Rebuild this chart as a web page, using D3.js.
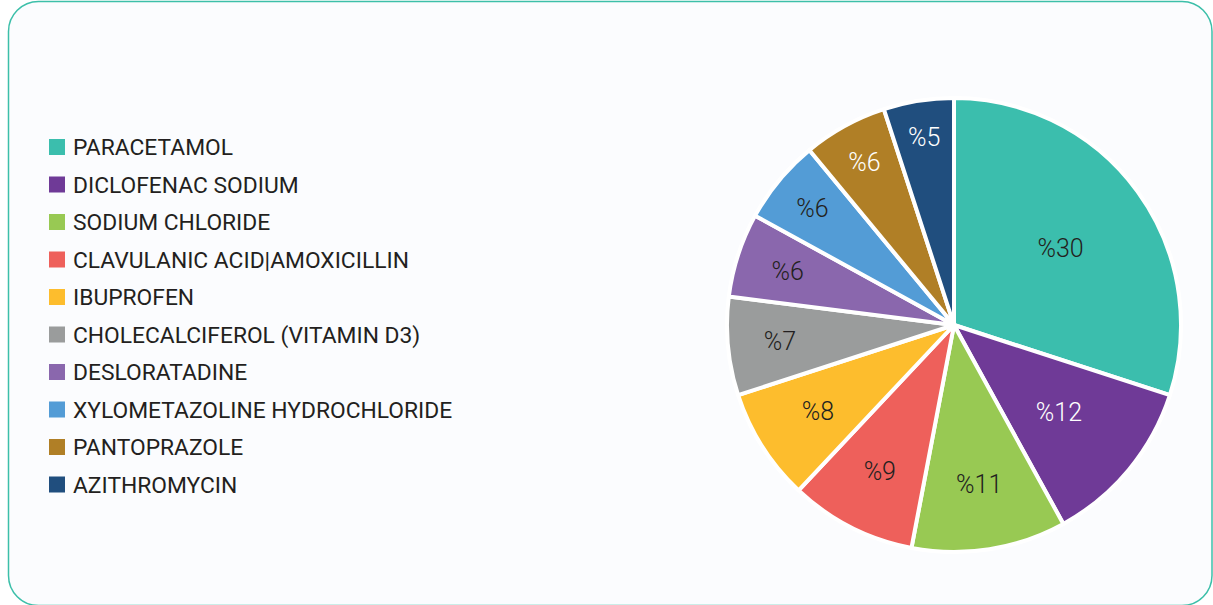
<!DOCTYPE html>
<html>
<head>
<meta charset="utf-8">
<script src="https://cdn.jsdelivr.net/npm/d3@7"></script>
<style>
  html, body { margin: 0; padding: 0; background: #ffffff; }
  svg { display: block; }
</style>
</head>
<body>
<script>
// chart data
var drugs = [
    "PARACETAMOL", "DICLOFENAC SODIUM", "SODIUM CHLORIDE",
    "CLAVULANIC ACID|AMOXICILLIN", "IBUPROFEN", "CHOLECALCIFEROL (VITAMIN D3)",
    "DESLORATADINE", "XYLOMETAZOLINE HYDROCHLORIDE", "PANTOPRAZOLE", "AZITHROMYCIN"
];
var shares = [30, 12, 11, 9, 8, 7, 6, 6, 6, 5];
var colors = ["#3bbead", "#6f3a97", "#98c953", "#ee605b", "#fdbd2d",
              "#9a9c9c", "#8a67ad", "#539cd6", "#b07f26", "#204e7e"];
var labelColors = ["#231f20", "#ffffff", "#231f20", "#231f20", "#231f20",
                   "#231f20", "#231f20", "#231f20", "#ffffff", "#ffffff"];

// label distance from centre, as a share of the radius
var labelDist = [0.58, 0.6, 0.71, 0.72, 0.71, 0.77, 0.77, 0.81, 0.82, 0.84];

function draw(width, height) {
    var svg = d3.select("body").append("svg")
        .attr("width", width)
        .attr("height", height);

    // card frame
    svg.append("rect")
        .attr("x", 8.5).attr("y", 1.5)
        .attr("width", 1203.5).attr("height", 604)
        .attr("rx", 30).attr("ry", 30)
        .attr("fill", "#fbfcfe")
        .attr("stroke", "#3cbfa9")
        .attr("stroke-width", 1.5);

    // legend
    var legend = svg.append("g").attr("transform", "translate(49,147)");
    var rows = legend.selectAll("g")
        .data(drugs)
        .enter().append("g")
        .attr("transform", function(d, i) { return "translate(0," + (i * 37.5) + ")"; });
    rows.append("rect")
        .attr("x", 0).attr("y", -8)
        .attr("width", 16).attr("height", 16)
        .attr("fill", function(d, i) { return colors[i]; });
    rows.append("text")
        .attr("x", 24).attr("y", 0)
        .attr("dy", "0.36em")
        .attr("font-family", "Roboto, 'Noto Sans', sans-serif")
        .attr("font-size", "22.8px")
        .attr("fill", "#231f20")
        .text(function(d) { return d; });

    // pie
    var cx = 954, cy = 325, r = 227;
    var pie = d3.pie().sort(null).value(function(d) { return d; });
    var arcs = pie(shares);
    var arc = d3.arc().innerRadius(0).outerRadius(r);

    var g = svg.append("g").attr("transform", "translate(" + cx + "," + cy + ")");
    g.selectAll("path")
        .data(arcs)
        .enter().append("path")
        .attr("d", arc)
        .attr("fill", function(d, i) { return colors[i]; })
        .attr("stroke", "#ffffff")
        .attr("stroke-width", 4)
        .attr("stroke-linejoin", "round");

    g.selectAll("text")
        .data(arcs)
        .enter().append("text")
        .attr("transform", function(d, i) {
            var a = (d.startAngle + d.endAngle) / 2;
            var dist = r * labelDist[i];
            return "translate(" + (Math.sin(a) * dist) + "," + (-Math.cos(a) * dist) + ")";
        })
        .attr("text-anchor", "middle")
        .attr("dy", "0.36em")
        .attr("font-family", "Roboto, 'Noto Sans', sans-serif")
        .attr("font-size", "25px")
        .attr("font-weight", 300)
        .attr("fill", function(d, i) { return labelColors[i]; })
        .text(function(d) { return "%" + d.data; });
}

var width = 1213;
var height = 605;

document.addEventListener("DOMContentLoaded", function() { draw(width, height); });
</script>
</body>
</html>
